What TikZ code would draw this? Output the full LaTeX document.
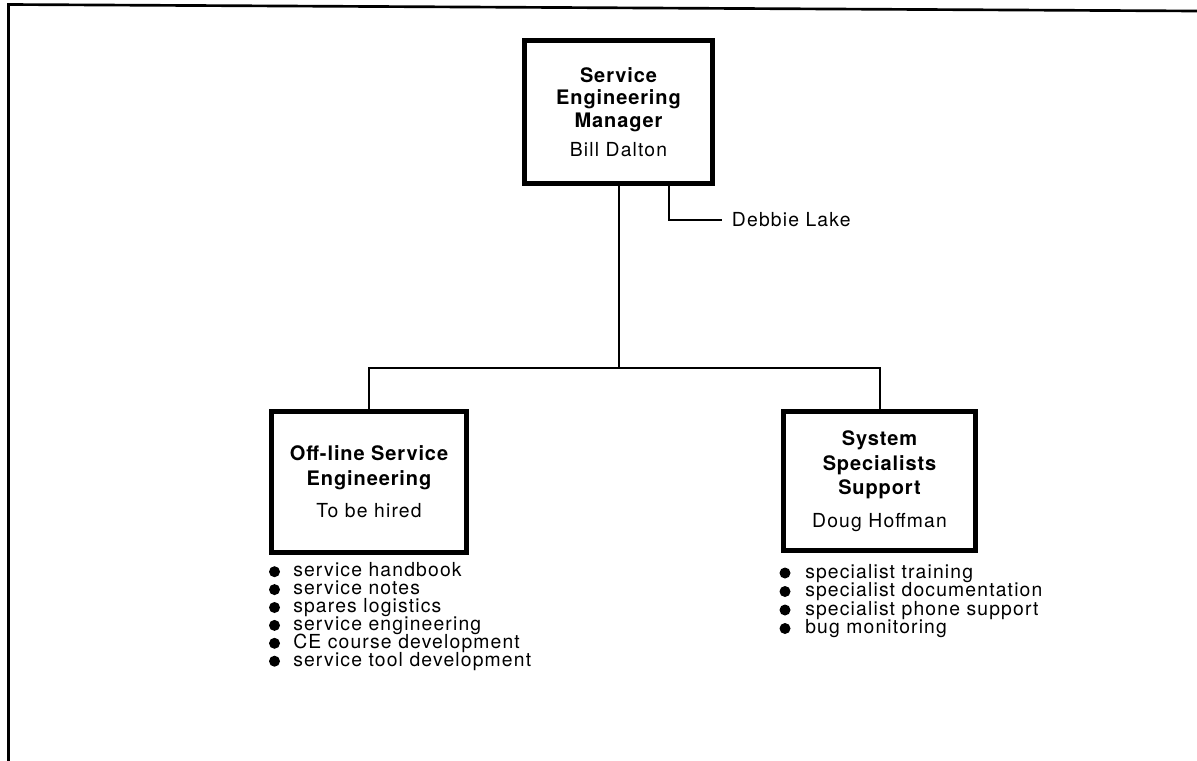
\documentclass[tikz,border=0pt]{standalone}
\usepackage{fontspec}
\setmainfont{TeX Gyre Heros}[LetterSpace=6, BoldFeatures={LetterSpace=4.5}]
\newcommand\unittitle[1]{{\fontsize{15}{17}\selectfont\bfseries #1}}
\tikzset{
    unitbox/.style={draw, line width=3.75pt, align=center, inner sep=0pt,
        font=\fontsize{14.5}{17}\selectfont},
    lowbox/.style={unitbox, font=\fontsize{14.5}{18.4}\selectfont},
    link/.style={line width=1.5pt},
    pageedge/.style={line width=2pt},
    dot/.style={circle, fill, inner sep=0pt, minimum size=8.25pt},
    duty/.style={anchor=base west, inner sep=0pt, font=\fontsize{14.5}{14}\selectfont},
}
\begin{document}
\begin{tikzpicture}[x=.75pt,y=-.75pt]
                \useasboundingbox (0,0) rectangle (1197,761);
                % sheet edge
                \draw[pageedge] (8.5,761) -- (8.5,4.5) -- (1197,11);
                % boxes
                \node[unitbox, minimum width=141pt, minimum height=107.25pt] (mgr) at (618.5,112)
                    {\unittitle{Service}\\\unittitle{Engineering}\\\unittitle{Manager}\\[4.5pt]Bill Dalton};
                \node[lowbox, minimum width=146.25pt, minimum height=105.75pt] (offline) at (369,482)
                    {\unittitle{Off-line Service}\\\unittitle{Engineering}\\[6pt]To be hired};
                \node[lowbox, minimum width=144pt, minimum height=104.25pt] (support) at (879.5,481)
                    {\unittitle{System}\\\unittitle{Specialists}\\\unittitle{Support}\\[6pt]Doug Hoffman};
                \node[anchor=west, inner sep=0pt, inner xsep=7.5pt, font=\fontsize{14.5}{17}\selectfont] (debbie) at (721.7,220) {Debbie Lake};
                \coordinate (bus) at (618.5,368);
                % connectors
                \draw[link] (mgr.south) -- (bus);
                \draw[link] (offline.north) -- (offline.north |- bus) -- (support.north |- bus) -- (support.north);
                \draw[link] ([xshift=38.1pt]mgr.south) |- (debbie.west);
                % duties
                \foreach \duty [count=\i] in {service handbook,service notes,spares logistics,service engineering,CE course development,service tool development}
                {
                    \node[dot] (offdot\i) at (274.5,{571.7+17.9*(\i-1)}) {};
                    \node[duty] (offduty\i) at (293,{576.7+17.9*(\i-1)}) {\duty};
                }
                \foreach \duty [count=\i] in {specialist training,specialist documentation,specialist phone support,bug monitoring}
                {
                    \node[dot] (supdot\i) at (785,{573+18.5*(\i-1)}) {};
                    \node[duty] (supduty\i) at (805,{578+18.5*(\i-1)}) {\duty};
                }
            \end{tikzpicture}
\end{document}
